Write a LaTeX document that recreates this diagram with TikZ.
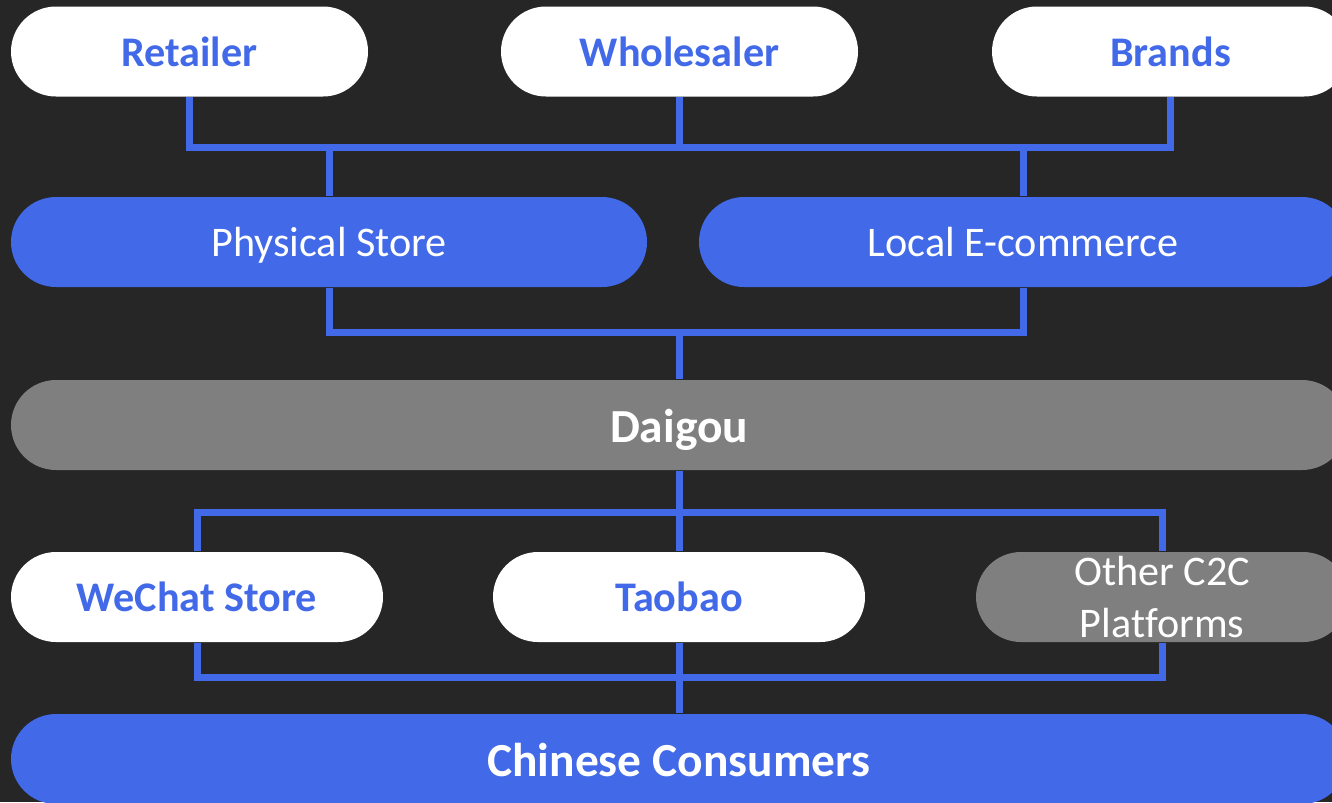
\documentclass[tikz,border=0pt]{standalone}
\usepackage{fontspec}
\setmainfont{Carlito}[Ligatures=NoCommon]
\usepackage{xcolor}
\definecolor{bgdark}{HTML}{262626}
\definecolor{royal}{HTML}{4169E8}
\definecolor{slate}{HTML}{7F7F7F}

\begin{document}
\begin{tikzpicture}[
        pill/.style={rounded corners=0.45cm, minimum height=0.9cm, inner sep=0pt, align=center, font=\fontsize{12}{14.8}\selectfont},
        oneline/.style={text height=10.5pt, text depth=2pt},
        bigline/.style={text height=12pt, text depth=2.3pt, font=\fontsize{13.5}{16}\selectfont\bfseries},
        whitepill/.style={pill, oneline, fill=white, text=royal, font=\fontsize{12}{14.8}\selectfont\bfseries},
        bluepill/.style={pill, fill=royal, text=white},
        greypill/.style={pill, fill=slate, text=white},
        link/.style={royal, line width=0.07cm, line join=miter}
    ]
            \useasboundingbox (0,0) rectangle (13.32,-8.02);
            \clip (0,0) rectangle (13.32,-8.02);
            \fill[bgdark] (0,0) rectangle (13.32,-8.02);
            % suppliers
            \node[whitepill, minimum width=3.57cm] (retailer) at (1.895,-0.515) {Retailer};
            \node[whitepill, minimum width=3.57cm] (wholesaler) at (6.795,-0.515) {Wholesaler};
            \node[whitepill, minimum width=3.57cm] (brands) at (11.705,-0.515) {Brands};
            % channels
            \node[bluepill, oneline, minimum width=6.36cm] (store) at (3.29,-2.42) {Physical Store};
            \node[bluepill, oneline, minimum width=6.48cm] (ecom) at (10.23,-2.42) {Local E-commerce};
            \node[greypill, bigline, minimum width=13.36cm] (daigou) at (6.79,-4.25) {Daigou};
            % platforms
            \node[whitepill, minimum width=3.72cm] (wechat) at (1.97,-5.97) {WeChat Store};
            \node[whitepill, minimum width=3.72cm] (taobao) at (6.79,-5.97) {Taobao};
            \node[greypill, minimum width=3.72cm] (other) at (11.62,-5.97) {Other C2C\\Platforms};
            \node[bluepill, bigline, minimum width=13.36cm] (consumers) at (6.79,-7.59) {Chinese Consumers};
            % buses
            \coordinate (topbus) at (0,-1.47);
            \coordinate (midbus) at (0,-3.32);
            \coordinate (platbus) at (0,-5.12);
            \coordinate (lowbus) at (0,-6.77);
            \draw[link] (retailer.south) -- (retailer.south |- topbus) -- (brands.south |- topbus) -- (brands.south);
            \draw[link] (wholesaler.south) -- (wholesaler.south |- topbus);
            \draw[link] (store.north) -- (store.north |- topbus);
            \draw[link] (ecom.north) -- (ecom.north |- topbus);
            \draw[link] (store.south) -- (store.south |- midbus) -- (ecom.south |- midbus) -- (ecom.south);
            \draw[link] (daigou.north) -- (daigou.north |- midbus);
            \draw[link] (daigou.south) -- (taobao.north);
            \draw[link] (wechat.north) -- (wechat.north |- platbus) -- (other.north |- platbus) -- (other.north);
            \draw[link] (wechat.south) -- (wechat.south |- lowbus) -- (other.south |- lowbus) -- (other.south);
            \draw[link] (taobao.south) -- (consumers.north);
        \end{tikzpicture}
\end{document}
